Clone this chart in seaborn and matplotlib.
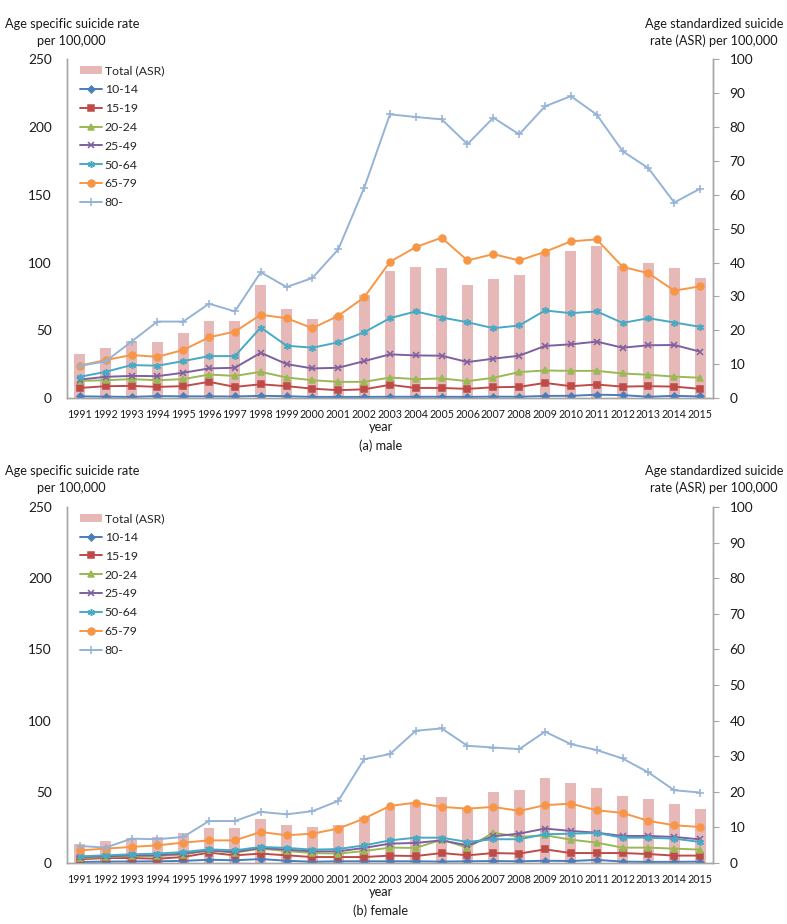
import numpy as np
import pandas as pd
import seaborn as sns
import matplotlib.pyplot as plt
from matplotlib.patches import Patch

years = list(range(1991, 2016))
groups = ["10-14", "15-19", "20-24", "25-49", "50-64", "65-79", "80-"]

# male, age specific rates per 100,000
male_10_14 = [1.2, 1.0, 0.8, 1.4, 1.2, 1.2, 1.1, 1.6, 1.3, 0.8, 0.8, 0.8, 0.9, 0.9, 0.9, 0.8, 1.0, 0.9, 1.5, 1.6, 2.4, 2.1, 0.9, 1.6, 1.1]
male_15_19 = [7.4, 8.7, 8.9, 8.2, 8.7, 11.9, 8.2, 10.1, 8.7, 6.9, 5.7, 6.4, 9.7, 7.4, 7.4, 6.7, 7.9, 8.2, 11.1, 8.7, 9.9, 8.4, 8.7, 8.4, 6.7]
male_20_24 = [12.6, 13.1, 13.9, 13.1, 13.9, 17.3, 16.3, 19.3, 15.1, 13.1, 11.9, 11.9, 15.1, 13.9, 14.4, 12.4, 14.9, 19.1, 20.3, 20.0, 20.0, 18.1, 17.1, 15.8, 14.9]
male_25_49 = [13.6, 15.6, 16.3, 16.1, 18.6, 21.8, 22.3, 33.4, 25.0, 21.8, 22.3, 27.2, 32.2, 31.4, 31.2, 26.5, 29.0, 31.2, 38.4, 39.6, 41.6, 37.1, 38.9, 39.1, 34.2]
male_50_64 = [15.6, 19.3, 24.3, 23.8, 27.2, 30.9, 30.9, 52.0, 38.6, 37.1, 41.1, 48.5, 58.9, 63.9, 59.4, 55.9, 51.5, 53.5, 64.6, 62.6, 63.9, 55.4, 58.9, 55.7, 52.5]
male_65_79 = [23.8, 28.0, 31.7, 30.4, 35.4, 44.8, 49.0, 61.4, 58.9, 51.5, 60.6, 74.3, 100.5, 111.4, 118.3, 101.5, 106.2, 101.5, 107.9, 115.6, 117.1, 96.8, 92.1, 79.2, 82.4]
male_80 = [23.8, 27.0, 41.6, 56.4, 56.4, 69.6, 63.9, 92.8, 81.9, 88.6, 109.7, 155.0, 209.4, 207.4, 205.7, 187.4, 206.9, 194.6, 215.3, 222.8, 209.2, 182.2, 169.6, 144.3, 154.5]
male_asr = [13.0, 14.9, 16.8, 16.6, 19.1, 22.6, 22.8, 33.3, 26.2, 23.3, 24.5, 30.5, 37.4, 38.6, 38.3, 33.5, 35.0, 36.3, 42.7, 43.4, 44.9, 38.9, 39.9, 38.5, 35.3]

# female, age specific rates per 100,000
female_10_14 = [0.7, 1.0, 1.1, 1.2, 1.5, 2.3, 1.9, 2.8, 1.6, 0.9, 1.2, 1.2, 1.2, 1.2, 1.0, 1.2, 1.4, 1.2, 1.6, 1.4, 2.2, 1.0, 0.8, 0.8, 1.0]
female_15_19 = [2.6, 3.5, 3.5, 3.0, 4.2, 7.3, 5.4, 6.6, 5.4, 4.2, 4.2, 4.2, 5.2, 4.9, 7.0, 5.4, 7.0, 6.6, 9.6, 7.0, 7.0, 7.0, 6.3, 5.2, 5.2]
female_20_24 = [3.5, 4.2, 4.9, 4.9, 5.9, 8.9, 7.3, 10.1, 8.4, 7.0, 6.6, 8.4, 10.8, 10.6, 16.4, 10.8, 21.3, 18.3, 19.5, 16.4, 14.3, 10.8, 10.8, 10.1, 9.4]
female_25_49 = [4.2, 4.7, 5.4, 5.4, 6.6, 8.9, 7.7, 10.6, 9.4, 8.2, 8.2, 10.6, 13.6, 14.1, 15.9, 12.4, 18.8, 20.6, 24.2, 22.5, 21.3, 19.0, 19.0, 18.3, 16.6]
female_50_64 = [4.7, 5.4, 6.1, 6.6, 7.7, 9.6, 8.9, 11.3, 10.6, 9.4, 9.8, 12.4, 15.9, 17.8, 17.8, 14.8, 16.7, 16.7, 20.2, 20.6, 21.1, 17.8, 17.8, 17.1, 14.8]
female_65_79 = [8.9, 10.1, 11.3, 12.4, 14.3, 15.9, 15.9, 21.8, 19.5, 20.6, 24.2, 31.2, 40.1, 42.4, 39.4, 38.2, 39.4, 36.6, 40.6, 41.7, 37.0, 35.2, 29.6, 26.5, 25.3]
female_80 = [12.0, 10.8, 17.1, 16.7, 18.3, 29.5, 29.5, 35.9, 34.2, 36.4, 43.6, 72.9, 76.5, 92.9, 94.5, 82.3, 81.1, 80.0, 92.2, 83.5, 79.3, 73.4, 63.6, 51.1, 49.5]
female_asr = [5.4, 6.2, 7.0, 7.3, 8.3, 9.8, 9.7, 12.5, 10.8, 10.1, 10.6, 12.9, 15.8, 16.7, 18.6, 15.3, 20.0, 20.5, 23.9, 22.5, 21.2, 18.8, 17.9, 16.5, 15.3]

male_rates = [male_10_14, male_15_19, male_20_24, male_25_49, male_50_64, male_65_79, male_80]
female_rates = [female_10_14, female_15_19, female_20_24, female_25_49, female_50_64, female_65_79, female_80]

colors = {"10-14": "#4A7EBB", "15-19": "#BE4B48", "20-24": "#98B954", "25-49": "#7D60A0",
          "50-64": "#46AAC5", "65-79": "#F79646", "80-": "#95B3D7"}
markers = {"10-14": "D", "15-19": "s", "20-24": "^", "25-49": "x",
           "50-64": (6, 2, 0), "65-79": "o", "80-": "+"}
sizes = {"10-14": 3.5, "15-19": 4.8, "20-24": 5, "25-49": 5, "50-64": 5, "65-79": 5, "80-": 6}
bar_color = "#E6B9B8"
grey = "#A6A6A6"
txt = "#1a1a1a"

sns.set_theme(style="white")
plt.rcParams['font.family'] = ['Lato', 'DejaVu Sans']

fig = plt.figure(figsize=(7.87, 9.24), dpi=100)


def panel(rect, rates, asr, caption, title_y):
    ax = fig.add_axes(rect)
    ax2 = ax.twinx()
    ax.set_zorder(ax2.get_zorder() + 1)
    ax.patch.set_visible(False)

    df_bar = pd.DataFrame({"year": years, "asr": asr})
    sns.barplot(data=df_bar, x="year", y="asr", ax=ax2, native_scale=True,
                color=bar_color, width=0.42, saturation=1, edgecolor="none")

    rows = []
    for g, vals in zip(groups, rates):
        for y, v in zip(years, vals):
            rows.append((y, v, g))
    df = pd.DataFrame(rows, columns=["year", "rate", "group"])
    for g in groups:
        sub = df[df["group"] == g]
        sns.lineplot(data=sub, x="year", y="rate", ax=ax, color=colors[g],
                     marker=markers[g], markersize=sizes[g], linewidth=1.4,
                     markeredgecolor=colors[g], markeredgewidth=1.1, label=g)

    ax.set_xlim(1990.5, 2015.5)
    ax2.set_xlim(1990.5, 2015.5)
    ax.set_ylim(0, 250)
    ax2.set_ylim(0, 100)
    ax.set_yticks(range(0, 251, 50))
    ax2.set_yticks(range(0, 101, 10))
    ax.set_xticks(years)
    ax.set_xticklabels([str(y) for y in years], fontsize=7.7, color=txt)
    ax.tick_params(axis="y", labelsize=9.8, colors=txt, length=0, pad=11)
    ax.tick_params(axis="x", length=0, pad=8)
    ax2.tick_params(axis="y", labelsize=9.8, colors=txt, length=4, width=0.8,
                    direction="out", pad=8, color=grey)
    for a in (ax, ax2):
        a.grid(False)
        a.spines["top"].set_visible(False)
        for s in ("left", "right", "bottom"):
            a.spines[s].set_color(grey)
            a.spines[s].set_linewidth(1)
    ax.set_xlabel("")
    ax.set_ylabel("")
    ax2.set_ylabel("")

    h, l = ax.get_legend_handles_labels()
    h = [Patch(facecolor=bar_color, edgecolor="none")] + h
    l = ["Total (ASR)"] + l
    ax.legend(h, l, loc="upper left", bbox_to_anchor=(0.011, 1.0), frameon=False,
              fontsize=8.8, handlelength=1.8, handletextpad=0.2, labelspacing=0.64,
              borderaxespad=0.2, borderpad=0.3)

    fig.text(0.006, title_y, "Age specific suicide rate", fontsize=9.2, ha="left", va="baseline", color=txt)
    fig.text(0.047, title_y - 0.019, "per 100,000", fontsize=9.2, ha="left", va="baseline", color=txt)
    fig.text(0.995, title_y, "Age standardized suicide", fontsize=9.2, ha="right", va="baseline", color=txt)
    fig.text(0.988, title_y - 0.019, "rate (ASR) per 100,000", fontsize=9.2, ha="right", va="baseline", color=txt)
    fig.text(0.484, rect[1] - 0.031, "year", fontsize=9.2, ha="center", va="center", color=txt)
    fig.text(0.484, rect[1] - 0.052, caption, fontsize=9.2, ha="center", va="center", color=txt)


panel([0.085, 0.5693, 0.821, 0.3665], male_rates, male_asr, "(a) male", 0.970)
panel([0.085, 0.066, 0.821, 0.3853], female_rates, female_asr, "(b) female", 0.486)

fig.savefig("out.png", dpi=100)
